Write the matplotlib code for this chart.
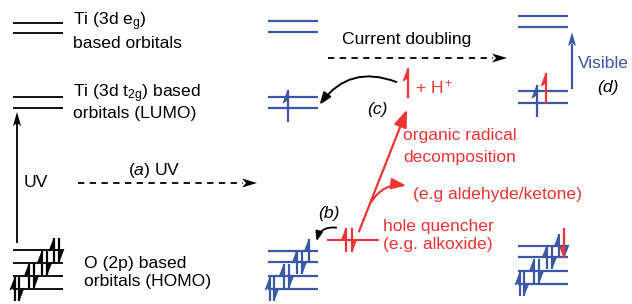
import numpy as np
import matplotlib
matplotlib.use('Agg')
import matplotlib.pyplot as plt
from matplotlib.patches import FancyArrowPatch, Polygon

plt.rcParams['font.family'] = ['Liberation Sans', 'DejaVu Sans']
plt.rcParams['mathtext.fontset'] = 'custom'
plt.rcParams['mathtext.rm'] = 'Liberation Sans'
plt.rcParams['mathtext.it'] = 'Liberation Sans:italic'

BLUE = '#3a57a8'
RED = '#ee3434'
FS = 12.6

# level rows (pixels from top) for the three band diagrams
column_x = [13, 268, 518]
column_color = ['black', BLUE, BLUE]
eg_y = [[23, 33], [21, 32], [16, 27]]
t2g_y = [[97, 108], [97, 108], [91, 103]]
homo_y = [[250, 263, 276, 289], [251, 262, 276, 289], [246, 257, 271, 284]]
level_width = 50
# x offsets of the electron pairs in the O 2p stack, bottom level first
electron_dx = [[2, 6], [16, 21], [29, 34], [41, 46]]


def harpoon(ax, x, y_tail, y_tip, color, side=-1, lw=1.6):
    """Vertical half arrow (electron spin)"""
    ax.plot([x, x], [y_tail, y_tip], color=color, lw=lw, solid_capstyle='butt')
    d = np.sign(y_tip - y_tail)
    ax.add_patch(Polygon([(x, y_tip), (x + side * 5, y_tip - d * 13), (x, y_tip - d * 10)],
                         closed=True, color=color, lw=0.5))


def head(ax, tip, angle, color, length=15, width=9, notch=4):
    """Stealth style arrow head, angle in degrees in pixel coords"""
    a = np.deg2rad(angle)
    u = np.array([np.cos(a), np.sin(a)])
    n = np.array([-u[1], u[0]])
    tip = np.array(tip, float)
    pts = [tip, tip - u * length + n * width / 2, tip - u * (length - notch),
           tip - u * length - n * width / 2]
    ax.add_patch(Polygon(pts, closed=True, color=color, lw=0))


def curved(ax, start, end, rad, color, lw=1.5, scale=10):
    ax.add_patch(FancyArrowPatch(start, end, connectionstyle=f'arc3,rad={rad}',
                                 arrowstyle='-|>,head_length=0.8,head_width=0.3',
                                 mutation_scale=scale, color=color, lw=lw))


def label(x, y, s, color='black', **kw):
    ax.text(x, y, s, fontsize=FS, va='baseline', color=color, **kw)


fig = plt.figure(figsize=(6.32, 3.04), dpi=100)
ax = fig.add_axes([0, 0, 1, 1])
ax.set_xlim(0, 632)
ax.set_ylim(304, 0)
ax.axis('off')

# energy levels
for x0, c, eg, t2g, homo in zip(column_x, column_color, eg_y, t2g_y, homo_y):
    lw = 1.3 if c == 'black' else 1.6
    for y in eg + t2g + homo:
        ax.plot([x0, x0 + level_width], [y, y], color=c, lw=lw, solid_capstyle='butt')
    for k, y in enumerate(homo[::-1]):
        xa, xb = x0 + electron_dx[k][0], x0 + electron_dx[k][1]
        harpoon(ax, xa, y + 12, y - 12, c)
        if x0 == column_x[1] and k == 3:
            continue  # hole left behind
        harpoon(ax, xb, y - 12, y + 12, c, side=1)
        if x0 == column_x[2] and k == 3:
            harpoon(ax, x0 + 46, y - 18, y + 12, RED, side=-1)

# excited electrons in t2g levels
harpoon(ax, 288, 122, 90, BLUE)
harpoon(ax, 537, 117, 85, BLUE)
harpoon(ax, 546, 103, 73, RED)
harpoon(ax, 408, 98, 68, RED)

# left labels
label(73, 25, r'Ti (3d e$_\mathrm{g}$)')
label(73, 48, 'based orbitals')
label(73, 97, r'Ti (3d t$_\mathrm{2g}$) based')
label(73, 118, 'orbitals (LUMO)')
label(84, 268, 'O (2p) based')
label(84, 286, 'orbitals (HOMO)')

# UV excitation
ax.plot([17, 17], [242, 122], color='black', lw=1.3)
head(ax, (17, 112), -90, 'black', length=14, width=8, notch=3)
label(24, 187, 'UV')

ax.plot([78, 243], [183, 183], color='black', lw=1.3, ls=(0, (3.5, 3)))
head(ax, (257, 183), 0, 'black')
label(128, 175, r'$\it{(a)}$ UV')

# current doubling
label(342, 44, 'Current doubling')
ax.plot([328, 493], [58, 58], color='black', lw=1.3, ls=(0, (3.5, 3)))
head(ax, (507, 58), 0, 'black')

# hole quencher level
ax.plot([328, 378], [240, 240], color=RED, lw=1.5)
harpoon(ax, 346, 252, 228, RED)
harpoon(ax, 352, 228, 252, RED, side=1)
label(383, 231, 'hole quencher', RED)
label(383, 249, '(e.g. alkoxide)', RED)

# (b) hole transfer
curved(ax, (339, 228), (316, 244), 0.5, 'black', lw=1.3, scale=7)
label(318, 218, '(b)', style='italic')

# radical decomposition
ax.add_patch(FancyArrowPatch((358, 234), (408, 107), arrowstyle='-|>,head_length=0.8,head_width=0.3',
                             mutation_scale=13, color=RED, lw=1.6))
curved(ax, (370, 204), (409, 186), -0.35, RED, scale=11)
label(460, 140, 'organic radical', RED, ha='center')
label(460, 162, 'decomposition', RED, ha='center')
label(413, 199, '(e.g aldehyde/ketone)', RED)
label(415, 93, r'+ H$^+$', RED)

# (c) electron injection
curved(ax, (399, 83), (318, 107), 0.4, 'black', lw=1.4, scale=9)
label(367, 114, '(c)', style='italic')

# (d) visible absorption
ax.plot([572, 572], [88, 45], color=BLUE, lw=1.6)
head(ax, (572, 32), -90, BLUE, length=14, width=8, notch=3)
label(578, 68, 'Visible', BLUE)
label(597, 92, '(d)', style='italic')

fig.savefig('out.png', dpi=100)
